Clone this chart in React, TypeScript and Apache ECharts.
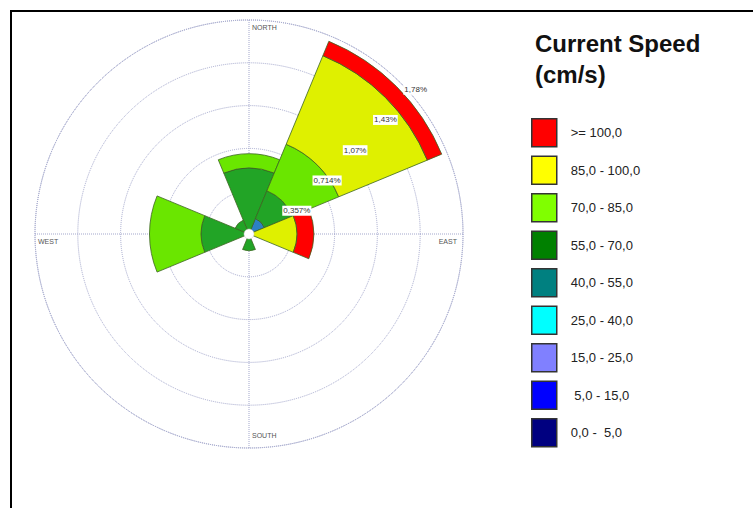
import React, { useEffect, useRef } from "react";
import * as echarts from "echarts";

// ---- data ----
const DIRECTIONS = ["N", "NE", "E", "SE", "S", "SW", "W", "NW"];
const SPEED_BINS = [
  "0,0 -  5,0",
  " 5,0 - 15,0",
  "15,0 - 25,0",
  "25,0 - 40,0",
  "40,0 - 55,0",
  "55,0 - 70,0",
  "70,0 - 85,0",
  "85,0 - 100,0",
  ">= 100,0",
];
// frequency (%) per direction [N, NE, E, SE, S, SW, W, NW]
const BIN_0_5 = [0, 0, 0, 0, 0, 0, 0, 0];
const BIN_5_15 = [0, 0, 0, 0, 0, 0, 0, 0];
const BIN_15_25 = [0, 0, 0, 0, 0, 0, 0, 0];
const BIN_25_40 = [0, 0, 0, 0, 0, 0, 0, 0];
const BIN_40_55 = [0, 0.14, 0, 0, 0, 0, 0, 0];
const BIN_55_70 = [0.55, 0.25, 0, 0, 0.14, 0, 0.4, 0.125];
const BIN_70_85 = [0.12, 0.42, 0, 0, 0, 0, 0.43, 0];
const BIN_85_100 = [0, 0.8, 0.4, 0, 0, 0, 0, 0];
const BIN_100 = [0, 0.13, 0.14, 0, 0, 0, 0, 0];
const BIN_VALUES = [
  BIN_0_5,
  BIN_5_15,
  BIN_15_25,
  BIN_25_40,
  BIN_40_55,
  BIN_55_70,
  BIN_70_85,
  BIN_85_100,
  BIN_100,
];
const RING_STEP = 0.357;
const RING_COUNT = 5;
const RING_LABELS = ["0,357%", "0,714%", "1,07%", "1,43%", "1,78%"];
const COMPASS = ["NORTH", "EAST", "SOUTH", "WEST"];

// ---- styles ----
const LEGEND_COLORS = [
  "#000080",
  "#0000ff",
  "#8080ff",
  "#00ffff",
  "#008080",
  "#008000",
  "#80ff00",
  "#ffff00",
  "#ff0000",
];
const FILL_COLORS = [
  "#000080",
  "#0000ff",
  "#8080ff",
  "#00ffff",
  "#2c80c4",
  "#22a426",
  "#6ae600",
  "#dff000",
  "#ff0000",
];

export default function App() {
  const ref = useRef<HTMLDivElement>(null);
  useEffect(() => {
    document.body.style.margin = "0";
    const chart = echarts.init(ref.current!, undefined, { renderer: "svg" });
    const cx = 249;
    const cy = 234;
    const R = 214;
    const maxR = RING_STEP * RING_COUNT;
    const grid = "#a3a7cc";
    const dotted = { color: grid, type: "dotted" as const, width: 1 };

    const series = SPEED_BINS.map((name, i) => ({
      name,
      type: "bar",
      coordinateSystem: "polar",
      polarIndex: 1,
      stack: "rose",
      barCategoryGap: "0%",
      data: BIN_VALUES[i].map((v) => (v > 0 ? v : null)),
      itemStyle: {
        color: FILL_COLORS[i],
        borderColor: "#3b6420",
        borderWidth: 0.8,
      },
      emphasis: { disabled: true },
    }));

    const graphics: any[] = [];
    // frame
    graphics.push({
      type: "line",
      shape: { x1: 10, y1: 11, x2: 753, y2: 11 },
      style: { stroke: "#000", lineWidth: 2 },
    });
    graphics.push({
      type: "line",
      shape: { x1: 11, y1: 10, x2: 11, y2: 508 },
      style: { stroke: "#000", lineWidth: 2 },
    });
    // ring labels
    RING_LABELS.forEach((t, k) => {
      const r = ((k + 1) * RING_STEP * R) / maxR;
      graphics.push({
        type: "text",
        x: cx + r * Math.cos(Math.PI / 4) + 3,
        y: cy - r * Math.sin(Math.PI / 4) + 7,
        z: 100,
        style: {
          text: t,
          fontSize: 8,
          fontFamily: "Liberation Sans, Arial, sans-serif",
          fill: "#333",
          backgroundColor: "#fff",
          padding: [1, 1],
          align: "left",
          verticalAlign: "middle",
        },
      });
    });
    // compass labels
    const compassPos = [
      { x: cx + 3, y: cy - R + 7, align: "left" },
      { x: cx + R - 6, y: cy + 7, align: "right" },
      { x: cx + 3, y: cy + R - 13, align: "left" },
      { x: cx - R + 3, y: cy + 7, align: "left" },
    ];
    COMPASS.forEach((t, i) => {
      graphics.push({
        type: "text",
        x: compassPos[i].x,
        y: compassPos[i].y,
        z: 100,
        style: {
          text: t,
          fontSize: 7,
          fontFamily: "Liberation Sans, Arial, sans-serif",
          fill: "#555",
          align: compassPos[i].align,
          verticalAlign: "middle",
        },
      });
    });
    // centre hole
    graphics.push({
      type: "circle",
      shape: { cx, cy, r: 5 },
      z: 100,
      style: { fill: "#fff", stroke: "#c8c8c8", lineWidth: 0.5 },
    });

    chart.setOption({
      animation: false,
      backgroundColor: "#fff",
      title: {
        text: "Current Speed\n(cm/s)",
        left: 535,
        top: 28,
        padding: 0,
        textStyle: {
          fontSize: 24,
          fontWeight: "bold",
          color: "#111",
          fontFamily: "Liberation Sans, Arial, sans-serif",
          lineHeight: 31,
        },
      },
      legend: {
        orient: "vertical",
        left: 531,
        top: 118,
        padding: 0,
        itemWidth: 25,
        itemHeight: 28,
        itemGap: 8,
        selectedMode: false,
        icon: "rect",
        data: SPEED_BINS.map((name, i) => ({
          name,
          itemStyle: {
            color: LEGEND_COLORS[i],
            borderColor: "#333",
            borderWidth: 1.5,
          },
        })).reverse(),
        textStyle: {
          fontSize: 13,
          color: "#222",
          fontFamily: "Liberation Sans, Arial, sans-serif",
          padding: [0, 0, 0, 9],
        },
      },
      polar: [
        { center: [cx, cy], radius: R },
        { center: [cx, cy], radius: R },
      ],
      angleAxis: [
        {
          polarIndex: 0,
          type: "value",
          min: 0,
          max: 360,
          interval: 90,
          startAngle: 90,
          axisLine: { show: true, lineStyle: dotted },
          axisTick: { show: false },
          axisLabel: { show: false },
          splitLine: { show: true, lineStyle: dotted },
        },
        {
          polarIndex: 1,
          type: "category",
          data: DIRECTIONS,
          startAngle: 112.5,
          boundaryGap: true,
          axisLine: { show: false },
          axisTick: { show: false },
          axisLabel: { show: false },
          splitLine: { show: false },
        },
      ],
      radiusAxis: [
        {
          polarIndex: 0,
          type: "value",
          min: 0,
          max: maxR,
          interval: RING_STEP,
          axisLine: { show: false },
          axisTick: { show: false },
          axisLabel: { show: false },
          splitLine: { show: true, lineStyle: dotted },
        },
        {
          polarIndex: 1,
          type: "value",
          min: 0,
          max: maxR,
          interval: RING_STEP,
          axisLine: { show: false },
          axisTick: { show: false },
          axisLabel: { show: false },
          splitLine: { show: false },
        },
      ],
      series,
      graphic: graphics,
    });
    return () => chart.dispose();
  }, []);
  return <div ref={ref} style={{ width: 753, height: 508 }} />;
}
